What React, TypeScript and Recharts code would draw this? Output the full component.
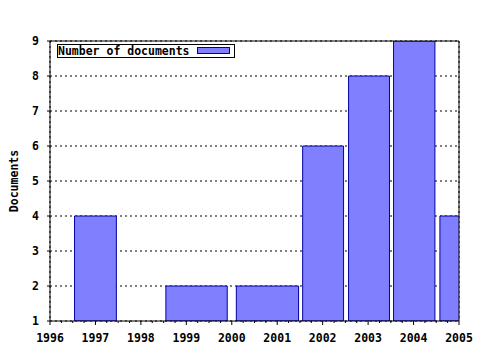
import React from 'react'
import {
  ComposedChart,
  XAxis,
  YAxis,
  CartesianGrid,
  ReferenceArea,
} from 'recharts'

// one box per year; gnuplot-style boxes with their own start/end
const yearLabels = ['1997', '1999', '2001', '2002', '2003', '2004', '2005']
const boxStart = [1996.54, 1998.55, 2000.1, 2001.56, 2002.57, 2003.56, 2004.58]
const boxEnd = [1997.46, 1999.9, 2001.47, 2002.46, 2003.47, 2004.47, 2005.46]
const documents = [4, 2, 2, 6, 8, 9, 4]

const xTicks = [1996, 1997, 1998, 1999, 2000, 2001, 2002, 2003, 2004, 2005]
const yTicks = [1, 2, 3, 4, 5, 6, 7, 8, 9]

// quarter-year minor ticks between the year ticks
const xAllTicks = xTicks.flatMap((t, i) =>
  i < xTicks.length - 1 ? [t, t + 0.25, t + 0.5, t + 0.75] : [t]
)

const FONT = '"DejaVu Sans Mono", monospace'
const BOX_FILL = '#8080ff'
const BOX_STROKE = '#0000a0'

const data = yearLabels.map((year, i) => ({
  year,
  start: boxStart[i],
  end: boxEnd[i],
  documents: documents[i],
}))

function BottomTick({ x, y, payload }: any) {
  const major = Number.isInteger(payload.value)
  return (
    <g>
      <line x1={x} y1={y} x2={x} y2={y + (major ? 4 : 2)} stroke="#000" />
      {major && (
        <text
          x={x}
          y={y + 20.5}
          textAnchor="middle"
          fontFamily={FONT}
          fontWeight="bold"
          fontSize={11.5}
          fill="#000"
        >
          {payload.value}
        </text>
      )}
    </g>
  )
}

function TopTick({ x, y, payload }: any) {
  const major = Number.isInteger(payload.value)
  return <line x1={x} y1={y} x2={x} y2={y - (major ? 4 : 2)} stroke="#000" />
}

export default function App() {
  return (
    <div style={{ position: 'absolute', left: 0, top: 0, width: 480, height: 350, background: '#fff' }}>
      <ComposedChart
        width={480}
        height={350}
        data={data}
        margin={{ top: 40, right: 20, left: 10, bottom: 0 }}
      >
        <CartesianGrid stroke="#000" strokeDasharray="2 3" xAxisId="grid" />
        {/* hidden axis only for the year grid lines */}
        <XAxis
          xAxisId="grid"
          hide
          type="number"
          domain={[1996, 2005]}
          allowDataOverflow
          ticks={xTicks}
          interval={0}
        />
        <XAxis
          dataKey="start"
          type="number"
          domain={[1996, 2005]}
          allowDataOverflow
          ticks={xAllTicks}
          interval={0}
          height={29}
          tickSize={0}
          tickMargin={0}
          tickLine={false}
          axisLine={{ stroke: '#000' }}
          tick={<BottomTick />}
        />
        <XAxis
          xAxisId="top"
          orientation="top"
          type="number"
          domain={[1996, 2005]}
          allowDataOverflow
          ticks={xAllTicks}
          interval={0}
          height={1}
          tickSize={0}
          tickMargin={0}
          tickLine={false}
          axisLine={{ stroke: '#000' }}
          tick={<TopTick />}
        />
        <YAxis
          type="number"
          domain={[1, 9]}
          allowDataOverflow
          ticks={yTicks}
          interval={0}
          width={40}
          tickSize={3}
          tickMargin={8}
          tickLine={{ stroke: '#000' }}
          axisLine={{ stroke: '#000' }}
          tick={{ fill: '#000', fontFamily: FONT, fontWeight: 'bold', fontSize: 11.5 }}
          label={({ viewBox }: any) => (
            <text
              x={viewBox.x + 8}
              y={viewBox.y + viewBox.height / 2}
              transform={`rotate(-90, ${viewBox.x + 8}, ${viewBox.y + viewBox.height / 2})`}
              textAnchor="middle"
              fontFamily={FONT}
              fontWeight="bold"
              fontSize={11.5}
              fill="#000"
            >
              Documents
            </text>
          )}
        />
        <YAxis
          yAxisId="right"
          orientation="right"
          type="number"
          domain={[1, 9]}
          allowDataOverflow
          width={1}
          tick={false}
          tickLine={false}
          axisLine={{ stroke: '#000' }}
        />
        {data.map((d) => (
          <ReferenceArea
            key={d.year}
            x1={d.start}
            x2={d.end}
            y1={1}
            y2={d.documents}
            fill={BOX_FILL}
            fillOpacity={1}
            stroke={BOX_STROKE}
            strokeWidth={1}
            ifOverflow="hidden"
          />
        ))}
      </ComposedChart>
      {/* legend box, top left inside the plot */}
      <div
        style={{
          position: 'absolute',
          left: 57,
          top: 44,
          width: 178,
          height: 14,
          boxSizing: 'border-box',
          border: '1px solid #000',
          background: '#fff',
          fontFamily: FONT,
          fontWeight: 'bold',
          fontSize: 11.5,
          lineHeight: '12px',
          color: '#000',
        }}
      >
        <span style={{ position: 'absolute', left: 0, top: 0, whiteSpace: 'nowrap' }}>Number of documents</span>
        <div
          style={{
            position: 'absolute',
            left: 139,
            top: 2,
            width: 33,
            height: 7,
            boxSizing: 'border-box',
            background: BOX_FILL,
            border: `1px solid ${BOX_STROKE}`,
          }}
        />
      </div>
    </div>
  )
}
